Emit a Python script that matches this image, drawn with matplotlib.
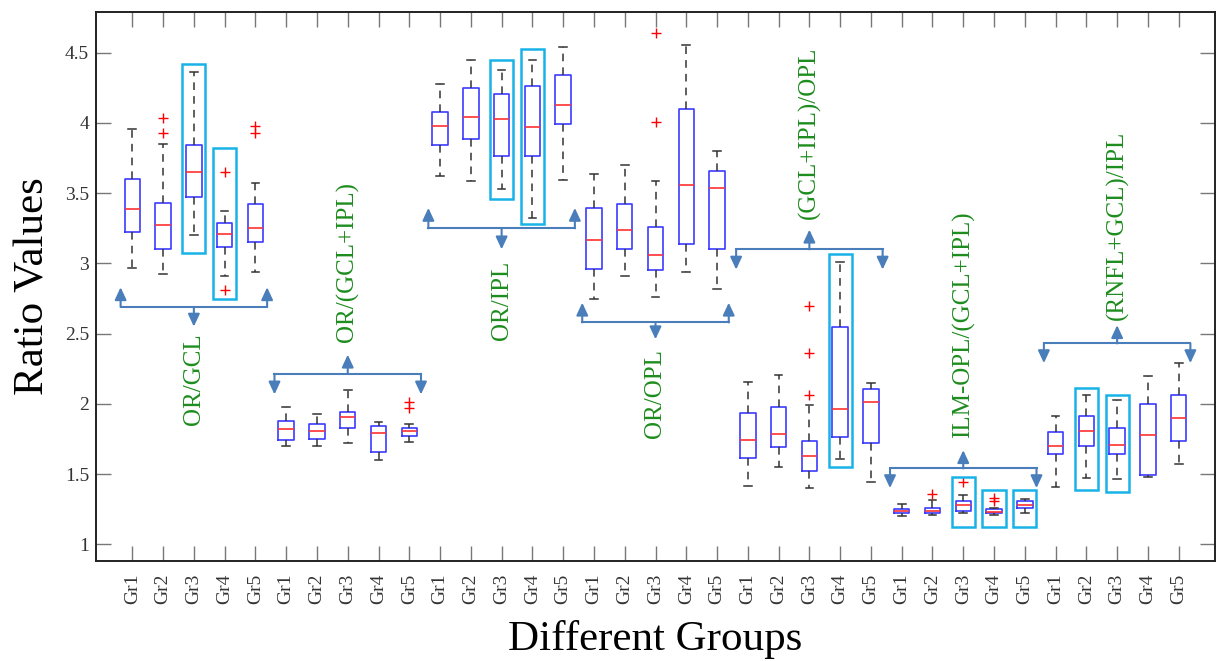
import numpy as np
import matplotlib.pyplot as plt
from matplotlib.patches import Rectangle

# ---- data ----
group_names = ["OR/GCL", "OR/(GCL+IPL)", "OR/IPL", "OR/OPL",
               "(GCL+IPL)/OPL", "ILM-OPL/(GCL+IPL)", "(RNFL+GCL)/IPL"]
sub_labels = ["Gr1", "Gr2", "Gr3", "Gr4", "Gr5"]

whislo = [2.97, 2.925, 3.20, 2.91, 2.94,
          1.70, 1.70, 1.72, 1.60, 1.73,
          3.62, 3.59, 3.53, 3.32, 3.596,
          2.75, 2.91, 2.76, 2.94, 2.82,
          1.415, 1.55, 1.40, 1.61, 1.44,
          1.20, 1.206, 1.225, 1.21, 1.225,
          1.41, 1.47, 1.465, 1.48, 1.574]
q1 = [3.22, 3.105, 3.47, 3.12, 3.155,
      1.74, 1.75, 1.83, 1.66, 1.77,
      3.84, 3.885, 3.765, 3.765, 3.99,
      2.963, 3.105, 2.95, 3.14, 3.10,
      1.617, 1.695, 1.52, 1.766, 1.72,
      1.22, 1.22, 1.24, 1.22, 1.256,
      1.64, 1.70, 1.64, 1.49, 1.735]
med = [3.39, 3.27, 3.65, 3.21, 3.25,
       1.82, 1.81, 1.905, 1.79, 1.81,
       3.98, 4.04, 4.03, 3.97, 4.13,
       3.17, 3.24, 3.06, 3.56, 3.535,
       1.74, 1.787, 1.63, 1.96, 2.01,
       1.24, 1.24, 1.28, 1.23, 1.28,
       1.70, 1.81, 1.71, 1.775, 1.90]
q3 = [3.60, 3.43, 3.84, 3.29, 3.42,
      1.88, 1.855, 1.94, 1.84, 1.825,
      4.08, 4.25, 4.205, 4.265, 4.34,
      3.395, 3.42, 3.26, 4.10, 3.66,
      1.937, 1.98, 1.733, 2.55, 2.107,
      1.25, 1.26, 1.31, 1.25, 1.31,
      1.80, 1.915, 1.83, 2.00, 2.06]
whishi = [3.96, 3.85, 4.36, 3.37, 3.57,
          1.98, 1.925, 2.10, 1.87, 1.86,
          4.28, 4.45, 4.375, 4.45, 4.54,
          3.64, 3.70, 3.59, 4.556, 3.80,
          2.157, 2.204, 1.99, 3.01, 2.15,
          1.285, 1.315, 1.35, 1.255, 1.325,
          1.91, 2.06, 2.03, 2.20, 2.29]
outliers = {2: [4.035, 3.93], 4: [3.65, 2.81], 5: [3.98, 3.93],
            10: [2.015, 1.97], 18: [4.64, 4.01],
            23: [2.70, 2.36, 2.06], 27: [1.356], 28: [1.446],
            29: [1.327, 1.306]}

# highlighted boxes: (box number, lower, upper)
highlights = [(3, 3.075, 4.42), (4, 2.75, 3.82), (13, 3.46, 4.445),
              (14, 3.28, 4.53), (24, 1.55, 3.07), (28, 1.12, 1.48),
              (29, 1.12, 1.39), (30, 1.12, 1.39), (32, 1.39, 2.11),
              (33, 1.375, 2.065)]

# bracket: (horizontal line level, tip of end arrows, tip of middle arrow)
brackets = [(2.69, 2.83, 2.55), (2.214, 2.067, 2.35), (3.25, 3.395, 3.10),
            (2.58, 2.72, 2.46), (3.10, 2.956, 3.24), (1.54, 1.40, 1.67),
            (2.43, 2.29, 2.56)]
# label anchor level and side (text hangs below 'top', sits above 'bottom')
label_y = [2.505, 2.44, 3.017, 2.39, 3.316, 1.757, 2.597]
label_va = ['top', 'bottom', 'top', 'top', 'bottom', 'bottom', 'bottom']

# ---- plotting ----
serif = ['Liberation Serif', 'DejaVu Serif']
blue_line = '#4a7ebb'
green = '#1e8c1e'
cyan = '#19b2e8'

fig = plt.figure(figsize=(12.16, 6.61), dpi=100)
ax = fig.add_axes([96/1216, 100/661, 1119/1216, 549/661])

n = len(med)
stats = []
for i in range(n):
    stats.append(dict(whislo=whislo[i], q1=q1[i], med=med[i], q3=q3[i],
                      whishi=whishi[i], fliers=outliers.get(i+1, [])))
pos = np.arange(1, n+1)
ax.bxp(stats, positions=pos, widths=0.5, showfliers=True,
       boxprops=dict(color='#3b3bff', linewidth=1.2),
       medianprops=dict(color='#ff3030', linewidth=1.2),
       whiskerprops=dict(color='#333333', linestyle=(0, (5, 4)), linewidth=1.1),
       capprops=dict(color='#333333', linewidth=1.1),
       flierprops=dict(marker='+', markeredgecolor='red', markersize=7,
                       markeredgewidth=1.0, linestyle='none'))

for b, lo, hi in highlights:
    ax.add_patch(Rectangle((b-0.375, lo), 0.75, hi-lo, fill=False,
                           edgecolor=cyan, linewidth=1.8, zorder=3))

astyle = '-|>,head_length=0.75,head_width=0.35'
for g, (yl, yend, ymid) in enumerate(brackets):
    x0 = g*5 + 1 - 0.38
    x1 = g*5 + 5 + 0.38
    xm = g*5 + 3
    ax.plot([x0, x1], [yl, yl], color=blue_line, lw=1.5, zorder=4)
    for xx, tip in [(x0, yend), (x1, yend), (xm, ymid)]:
        ax.annotate('', xy=(xx, tip), xytext=(xx, yl),
                    arrowprops=dict(arrowstyle=astyle, color=blue_line,
                                    lw=1.5, shrinkA=0, shrinkB=0), zorder=4)
    ax.text(xm, label_y[g], group_names[g], rotation=90, ha='center',
            va=label_va[g], color=green, fontsize=18, family=serif)

ax.set_xlim(-0.18, 36.18)
ax.set_ylim(0.881, 4.79)
ax.set_yticks([1, 1.5, 2, 2.5, 3, 3.5, 4, 4.5])
ax.set_yticklabels(['1', '1.5', '2', '2.5', '3', '3.5', '4', '4.5'])
ax.set_xticks(pos)
ax.set_xticklabels(sub_labels * len(group_names), rotation=90)
for lab in ax.get_xticklabels() + ax.get_yticklabels():
    lab.set_family(serif)
    lab.set_fontsize(14)
    lab.set_color('#333333')
ax.tick_params(direction='in', length=11, width=1, color='#777777',
               top=True, right=True)
ax.tick_params(axis='x', pad=9)
ax.tick_params(axis='y', pad=5)
for s in ax.spines.values():
    s.set_linewidth(1.4)
    s.set_color('#222222')

ax.set_ylabel('Ratio Values', fontsize=31, family=serif)
ax.yaxis.set_label_coords(-0.039, 0.5)
ax.set_xlabel('Different Groups', fontsize=31, family=serif)
ax.xaxis.set_label_coords(0.5, -0.108)

fig.savefig('out.png', dpi=100)
